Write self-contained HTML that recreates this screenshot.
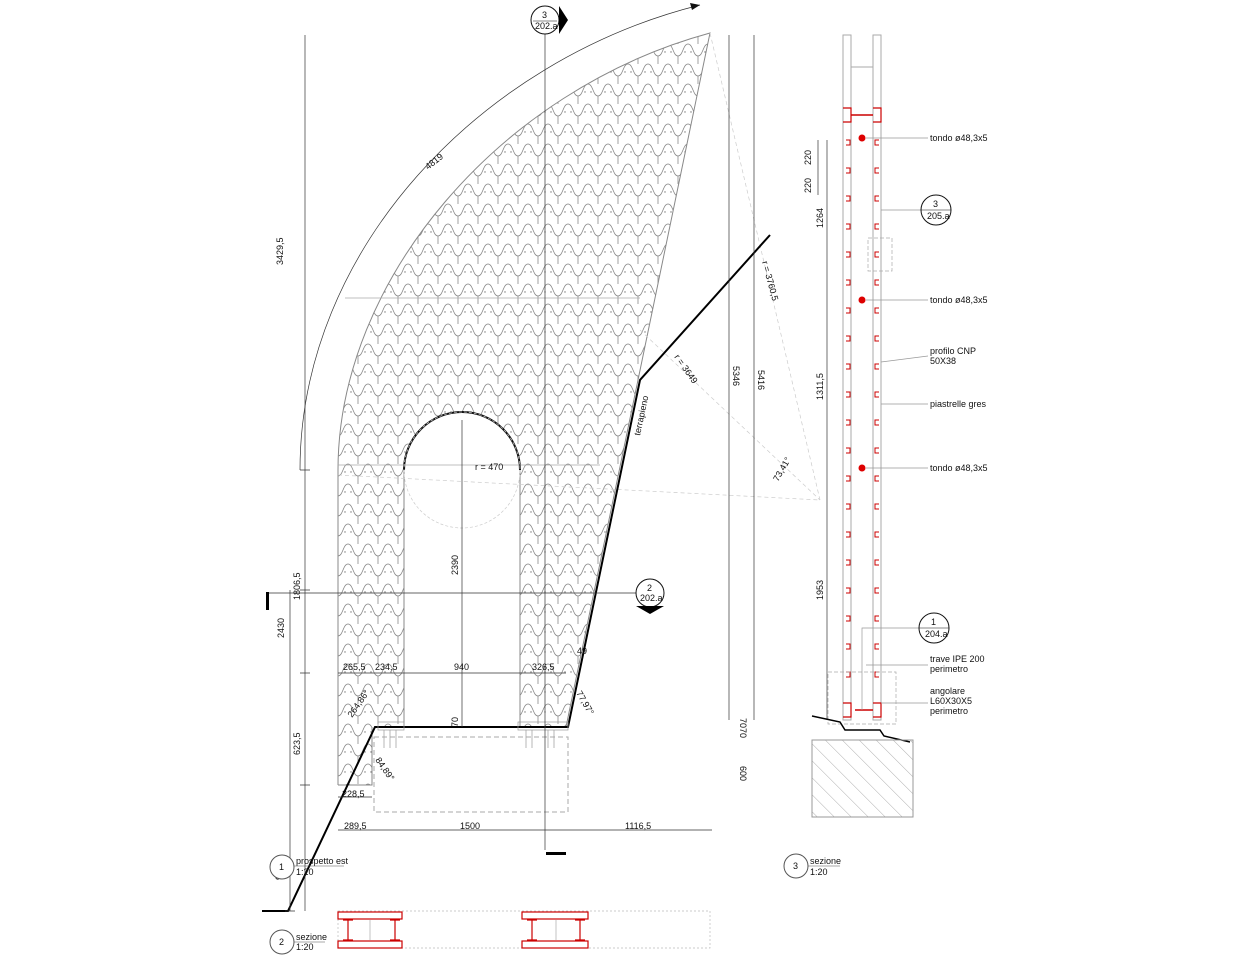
<!DOCTYPE html>
<html><head><meta charset="utf-8"><style>
html,body{margin:0;padding:0;background:#fff}
svg{display:block}
text{font-family:"Liberation Sans",sans-serif;font-size:9px;fill:#111}
</style></head><body>
<svg width="1240" height="960" viewBox="0 0 1240 960" xmlns="http://www.w3.org/2000/svg">
<defs>
<pattern id="tile" width="20" height="20" patternUnits="userSpaceOnUse" x="338" y="0">
<path d="M0,16 C5,16 5,4 10,4 C15,4 15,16 20,16" fill="none" stroke="#888" stroke-width="0.8"/>
<path d="M0,16 V20 M20,16 V20 M0,0 V4 M20,0 V4" fill="none" stroke="#888" stroke-width="0.8"/>
<circle cx="7" cy="12" r="0.7" fill="#777"/><circle cx="13" cy="12" r="0.7" fill="#777"/>
</pattern>
<clipPath id="panel"><path d="M338,785 L338,470 C338,280 500,90 710,33 L566,727 L520,727 L520,470 A58,58 0 0 0 404,470 L404,727 L372,727 L372,785 Z"/></clipPath>
<pattern id="hatch" width="12" height="12" patternUnits="userSpaceOnUse" patternTransform="rotate(-45)"><line x1="0" y1="0" x2="0" y2="12" stroke="#999" stroke-width="0.8"/></pattern>
</defs>
<rect x="330" y="25" width="390" height="770" fill="url(#tile)" clip-path="url(#panel)"/>
<path d="M338,785 L338,470 C338,280 500,90 710,33 L566,727 M520,727 L520,470 M404,470 L404,727 M372,727 L372,785 L338,785" fill="none" stroke="#888" stroke-width="1"/>
<path d="M520,470 A58,58 0 0 0 404,470" fill="none" stroke="#111" stroke-width="2"/>
<line x1="345" y1="298" x2="640" y2="298" stroke="#aaa" stroke-width="0.7"/>
<line x1="338" y1="465" x2="600" y2="465" stroke="#aaa" stroke-width="0.7"/>
<circle cx="462" cy="470" r="58" fill="none" stroke="#ccc" stroke-dasharray="3,2" stroke-width="0.7"/>
<line x1="338" y1="475" x2="820" y2="500" stroke="#ccc" stroke-dasharray="4,3" stroke-width="0.7"/>
<line x1="710" y1="33" x2="820" y2="500" stroke="#ccc" stroke-dasharray="4,3" stroke-width="0.7"/>
<line x1="640" y1="330" x2="820" y2="500" stroke="#ccc" stroke-dasharray="4,3" stroke-width="0.7"/>
<path d="M300,470 C300,250 480,60 700,5" fill="none" stroke="#333" stroke-width="0.7"/>
<polygon points="700,5 690,3 692,10" fill="#111"/>
<text transform="translate(428,170) rotate(-38)">4819</text>
<path d="M262,911 L288,911 L375,727 L568,727 L640,380 L770,235" fill="none" stroke="#000" stroke-width="2"/>
<rect x="374" y="737" width="194" height="75" fill="none" stroke="#aaa" stroke-dasharray="5,3"/>
<g stroke="#999" stroke-width="0.7" fill="none"><rect x="378" y="722" width="26" height="8"/><rect x="518" y="722" width="50" height="8"/>
<path d="M384,730V748M390,730V748M396,730V748M526,730V748M532,730V748M548,730V748M554,730V748"/></g>
<g stroke="#333" stroke-width="0.7" fill="none">
<line x1="305" y1="35" x2="305" y2="911"/>
<line x1="290" y1="590" x2="290" y2="911"/>
<path d="M300,470h10M300,590h10M300,673h10M300,785h10M285,911h10"/>
<line x1="338" y1="673" x2="566" y2="673"/>
<line x1="338" y1="830" x2="712" y2="830"/>
<line x1="338" y1="797" x2="372" y2="797"/>
<line x1="462" y1="420" x2="462" y2="727"/>
<line x1="729" y1="35" x2="729" y2="720"/>
<line x1="754" y1="35" x2="754" y2="720"/>
<line x1="545" y1="34" x2="545" y2="850"/>
<line x1="268" y1="593" x2="636" y2="593"/>
<line x1="827" y1="140" x2="827" y2="720"/>
<line x1="818" y1="140" x2="818" y2="195"/>
</g>
<g>
<text transform="translate(283,265) rotate(-90)">3429,5</text>
<text transform="translate(300,600) rotate(-90)">1806,5</text>
<text transform="translate(284,638) rotate(-90)">2430</text>
<text transform="translate(300,755) rotate(-90)">623,5</text>
<text transform="translate(282,880) rotate(-90)">987</text>
<text x="343" y="670">265,5</text><text x="375" y="670">234,5</text><text x="454" y="670">940</text><text x="532" y="670">326,5</text>
<text x="577" y="654">49</text>
<text transform="translate(576,693) rotate(60)">77,97°</text>
<text transform="translate(352,718) rotate(-55)">264,86°</text>
<text transform="translate(458,727) rotate(-90)">70</text>
<text transform="translate(375,760) rotate(55)">84,89°</text>
<text x="342" y="797">228,5</text>
<text x="344" y="829">289,5</text><text x="460" y="829">1500</text><text x="625" y="829">1116,5</text>
<text x="475" y="470">r = 470</text>
<text transform="translate(458,575) rotate(-90)">2390</text>
<text transform="translate(762,262) rotate(75)">r = 3760,5</text>
<text transform="translate(674,357) rotate(55)">r = 3649</text>
<text transform="translate(640,436) rotate(-78)">terrapieno</text>
<text transform="translate(733,366) rotate(90)">5346</text>
<text transform="translate(758,370) rotate(90)">5416</text>
<text transform="translate(740,718) rotate(90)">7070</text>
<text transform="translate(740,766) rotate(90)">600</text>
<text transform="translate(778,482) rotate(-60)">73,41°</text>
</g>
<circle cx="545" cy="20" r="14" fill="#fff" stroke="#111"/>
<polygon points="559,6 568,20 559,34" fill="#000"/>
<text x="542" y="18">3</text><text x="535" y="29">202.a</text>
<line x1="533" y1="21" x2="557" y2="21" stroke="#111" stroke-width="0.6"/>
<rect x="546" y="852" width="20" height="3" fill="#000"/>
<circle cx="650" cy="593" r="14" fill="#fff" stroke="#111"/>
<polygon points="636,606 650,614 664,606" fill="#000"/>
<text x="647" y="591">2</text><text x="640" y="601">202.a</text>
<rect x="266" y="592" width="3" height="18" fill="#000"/>
<g fill="none">
<rect x="843" y="35" width="8" height="685" stroke="#aaa"/>
<rect x="873" y="35" width="8" height="685" stroke="#aaa"/>
<line x1="851" y1="67" x2="873" y2="67" stroke="#aaa"/>
<line x1="851" y1="115" x2="873" y2="115" stroke="#c00" stroke-width="1.5"/>
<line x1="855" y1="710" x2="873" y2="710" stroke="#c00" stroke-width="1.5"/>
<path d="M843,108h8v14h-8 M873,108h8v14h-8 M843,703h8v14h-8 M873,703h8v14h-8" stroke="#c00" stroke-width="1.2"/>
</g>
<g stroke="#c00" stroke-width="1" fill="none">
<path d="M846,140h4v5h-4M846,168h4v5h-4M846,196h4v5h-4M846,224h4v5h-4M846,252h4v5h-4M846,280h4v5h-4M846,308h4v5h-4M846,336h4v5h-4M846,364h4v5h-4M846,392h4v5h-4M846,420h4v5h-4M846,448h4v5h-4M846,476h4v5h-4M846,504h4v5h-4M846,532h4v5h-4M846,560h4v5h-4M846,588h4v5h-4M846,616h4v5h-4M846,644h4v5h-4M846,672h4v5h-4"/>
<path d="M879,140h-4v5h4M879,168h-4v5h4M879,196h-4v5h4M879,224h-4v5h4M879,252h-4v5h4M879,280h-4v5h4M879,308h-4v5h4M879,336h-4v5h4M879,364h-4v5h4M879,392h-4v5h4M879,420h-4v5h4M879,448h-4v5h4M879,476h-4v5h4M879,504h-4v5h4M879,532h-4v5h4M879,560h-4v5h4M879,588h-4v5h4M879,616h-4v5h4M879,644h-4v5h4M879,672h-4v5h4"/>
</g>
<rect x="868" y="238" width="24" height="33" fill="none" stroke="#aaa" stroke-dasharray="4,2" stroke-width="0.7"/>
<rect x="828" y="672" width="68" height="52" fill="none" stroke="#aaa" stroke-dasharray="4,2" stroke-width="0.7"/>
<circle cx="862" cy="138" r="3.5" fill="#d00"/><circle cx="862" cy="300" r="3.5" fill="#d00"/><circle cx="862" cy="468" r="3.5" fill="#d00"/>
<g stroke="#999" stroke-width="0.7" fill="none">
<line x1="866" y1="138" x2="928" y2="138"/><line x1="866" y1="300" x2="928" y2="300"/><line x1="866" y1="468" x2="928" y2="468"/>
<line x1="881" y1="210" x2="921" y2="210"/><line x1="881" y1="362" x2="928" y2="356"/><line x1="881" y1="404" x2="928" y2="404"/>
<path d="M862,710V628H920M866,665H928M881,703H928"/>
</g>
<path d="M812,716 L840,722 L845,730 L880,730 L884,736 L910,742" fill="none" stroke="#000" stroke-width="1.5"/>
<rect x="812" y="740" width="101" height="77" fill="url(#hatch)" stroke="#999"/>
<g>
<text x="930" y="141">tondo ø48,3x5</text><text x="930" y="303">tondo ø48,3x5</text><text x="930" y="471">tondo ø48,3x5</text>
<text x="930" y="354">profilo CNP</text><text x="930" y="364">50X38</text>
<text x="930" y="407">piastrelle gres</text>
<text x="930" y="662">trave IPE 200</text><text x="930" y="672">perimetro</text>
<text x="930" y="694">angolare</text><text x="930" y="704">L60X30X5</text><text x="930" y="714">perimetro</text>
<text transform="translate(811,165) rotate(-90)">220</text>
<text transform="translate(811,193) rotate(-90)">220</text>
<text transform="translate(823,228) rotate(-90)">1264</text>
<text transform="translate(823,400) rotate(-90)">1311,5</text>
<text transform="translate(823,600) rotate(-90)">1953</text>
</g>
<circle cx="936" cy="210" r="15" fill="#fff" stroke="#111"/><line x1="921" y1="210" x2="951" y2="210" stroke="#111" stroke-width="0.6"/>
<text x="933" y="207">3</text><text x="927" y="219">205.a</text>
<circle cx="934" cy="628" r="15" fill="#fff" stroke="#111"/><line x1="919" y1="628" x2="949" y2="628" stroke="#111" stroke-width="0.6"/>
<text x="931" y="625">1</text><text x="925" y="637">204.a</text>
<circle cx="282" cy="867" r="12" fill="#fff" stroke="#555"/><text x="279" y="870">1</text>
<text x="296" y="864">prospetto est</text><text x="296" y="875">1:20</text><line x1="294" y1="866" x2="344" y2="866" stroke="#555" stroke-width="0.6"/>
<circle cx="282" cy="942" r="12" fill="#fff" stroke="#555"/><text x="279" y="945">2</text>
<text x="296" y="940">sezione</text><text x="296" y="950">1:20</text><line x1="294" y1="942" x2="325" y2="942" stroke="#555" stroke-width="0.6"/>
<circle cx="796" cy="866" r="12" fill="#fff" stroke="#555"/><text x="793" y="869">3</text>
<text x="810" y="864">sezione</text><text x="810" y="875">1:20</text><line x1="808" y1="866" x2="840" y2="866" stroke="#555" stroke-width="0.6"/>
<rect x="338" y="911" width="372" height="37" fill="none" stroke="#bbb" stroke-dasharray="2,2" stroke-width="0.7"/>
<g fill="none" stroke="#c00" stroke-width="1.2">
<rect x="338" y="912" width="64" height="7"/><rect x="338" y="941" width="64" height="7"/>
<rect x="522" y="912" width="66" height="7"/><rect x="522" y="941" width="66" height="7"/>
<path d="M343,920h10M348,920V940M343,940h10M390,920h10M395,920V940M390,940h10"/>
<path d="M527,920h10M532,920V940M527,940h10M575,920h10M580,920V940M575,940h10"/>
</g>
<g stroke="#aaa" stroke-width="0.7"><line x1="370" y1="920" x2="370" y2="940"/><line x1="556" y1="920" x2="556" y2="940"/></g>
</svg>
</body></html>
